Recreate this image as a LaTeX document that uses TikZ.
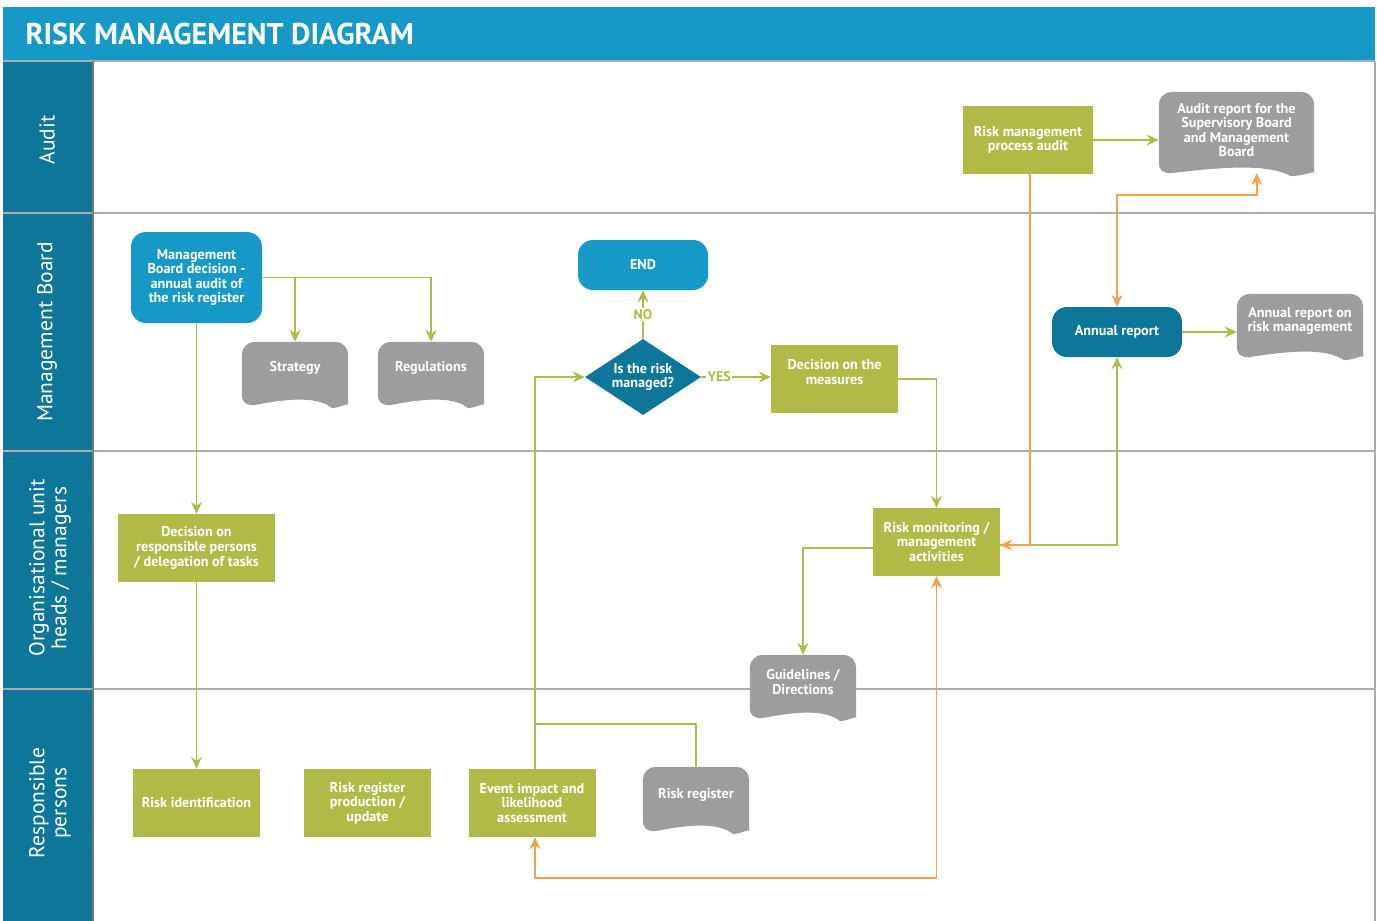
\documentclass[tikz,border=0pt]{standalone}
\usepackage{fontspec}
\setmainfont{PT Sans}
\usetikzlibrary{shapes.geometric,arrows.meta,calc}

\definecolor{titleblue}{HTML}{1799C8}
\definecolor{laneteal}{HTML}{0E7699}
\definecolor{boxgreen}{HTML}{B1BA46}
\definecolor{linkorange}{HTML}{F5A04B}
\definecolor{docgrey}{HTML}{9D9D9F}
\definecolor{laneline}{HTML}{ABABB0}
\definecolor{sepgrey}{HTML}{77777B}

\pgfdeclarelayer{lanes}
\pgfdeclarelayer{docs}
\pgfsetlayers{lanes,docs,main}

\tikzset{
  txt/.style={text=white, font=\bfseries\fontsize{14.2}{14.6}\selectfont, align=center, inner sep=0pt},
  gbox/.style={txt, fill=boxgreen, minimum width=127pt, minimum height=68pt},
  bbox/.style={txt, rounded corners=15pt, minimum width=130pt, minimum height=50pt},
  docnode/.style={txt, minimum width=106pt},
  lanelabel/.style={rotate=90, text=white, align=center, font=\fontsize{21.5}{22}\selectfont},
  glink/.style={draw=boxgreen, line width=1.7pt},
  garrow/.style={glink, -{Stealth[length=12pt,width=11pt,inset=4pt]}},
  oarrow/.style={draw=linkorange, line width=1.7pt, -{Stealth[length=12pt,width=11pt,inset=4pt]}},
  obiarrow/.style={draw=linkorange, line width=1.7pt, {Stealth[length=12pt,width=11pt,inset=4pt]}-{Stealth[length=12pt,width=11pt,inset=4pt]}},
  yesno/.style={fill=white, text=boxgreen, font=\bfseries\fontsize{14}{14}\selectfont, inner sep=1.5pt},
}

% grey document shape behind a node: rounded top, curled bottom edge
% #1 = node name, #2 = how far the curl reaches below the node
\newcommand\docback[2]{%
  \begin{pgfonlayer}{docs}
  \fill[docgrey]
    ($(#1.south west)+(0,#2-14)$)
    [rounded corners=13pt] -- (#1.north west) -- (#1.north east)
    -- ($(#1.south east)+(0,#2-16)$) [sharp corners]
    .. controls ($(#1.south east)+(0,#2-6)$) and ($(#1.south east)+(-6,#2-1)$) ..
    ($(#1.south west)!0.85!(#1.south east)+(0,#2)$)
    .. controls ($(#1.south west)!0.7!(#1.south east)+(0,#2-13)$) and ($(#1.south west)!0.4!(#1.south east)+(0,#2-9)$) ..
    ($(#1.south west)+(12,#2-3)$)
    .. controls ($(#1.south west)+(3,#2-3)$) and ($(#1.south west)+(0,#2-7)$) ..
    cycle;
  \end{pgfonlayer}}

\begin{document}
\begin{tikzpicture}[x=1pt, y=-1pt]
\useasboundingbox (0,0) rectangle (1377,921);

% title bar and swimlanes
\begin{pgfonlayer}{lanes}
  \fill[white] (0,0) rectangle (1377,921);
  \fill[titleblue] (3,7) rectangle (1375,60);
  \fill[laneteal] (3,61) rectangle (92,921);
  \foreach \yy in {61,213,451,689}
    \draw[laneline, line width=2pt] (3,\yy) -- (1375,\yy);
  \draw[sepgrey, line width=2.2pt] (93,61) -- (93,921);
  \draw[laneline, line width=1.5pt] (1375,61) -- (1375,921);
\end{pgfonlayer}

\node[anchor=west, text=white, font=\bfseries\fontsize{30}{30}\selectfont] (title) at (22,34) {RISK MANAGEMENT DIAGRAM};

\node[lanelabel] (l1) at (47,140) {Audit};
\node[lanelabel] (l2) at (47,332) {Management Board};
\node[lanelabel] (l3) at (50,568) {Organisational unit\\heads / managers};
\node[lanelabel] (l4) at (50,803) {Responsible\\persons};

% process steps
\node[bbox, fill=titleblue, minimum width=131pt, minimum height=91pt] (mbd) at (196.5,277.5)
  {Management\\Board decision -\\annual audit of\\the risk register};
\node[docnode, minimum height=52pt] (strat) at (295,368) {Strategy};
\node[docnode, minimum height=52pt] (regs) at (431,368) {Regulations};
\node[bbox, fill=titleblue] (endnode) at (643,265) {END};
\node[diamond, txt, fill=laneteal, aspect=1.53, minimum width=116pt, minimum height=76pt] (dia) at (643,377)
  {Is the risk\\managed?};
\node[gbox] (meas) at (834.5,379) {Decision on the\\measures\\\mbox{}};
\node[gbox, minimum width=130pt] (rpa) at (1028,140) {Risk management\\process audit};
\node[docnode, minimum width=155pt, minimum height=76pt] (arep) at (1236.5,130)
  {Audit report for the\\Supervisory Board\\and Management\\Board};
\node[bbox, fill=laneteal] (ann) at (1117,332) {Annual report};
\node[docnode, minimum width=126pt, minimum height=54pt] (arm) at (1300,321) {Annual report on\\risk management};
\node[gbox, minimum width=157pt] (resp) at (196.5,548) {Decision on\\responsible persons\\/ delegation of tasks};
\node[gbox] (mon) at (936.5,542) {Risk monitoring /\\management\\activities};
\node[docnode, minimum height=54pt] (guide) at (803,682) {Guidelines /\\Directions};
\node[gbox] (ident) at (196.5,803) {Risk identification};
\node[gbox] (rrp) at (367.5,803) {Risk register\\production /\\update};
\node[gbox] (evt) at (532,803) {Event impact and\\likelihood\\assessment};
\node[docnode, minimum height=56pt] (rr) at (696,795) {Risk register};

\docback{strat}{14}
\docback{regs}{14}
\docback{arep}{8}
\docback{arm}{12}
\docback{guide}{12}
\docback{rr}{11}

\coordinate (arepb) at ($(arep.south west)!0.63!(arep.south east)+(0,5)$);

% connectors
\draw[garrow] (mbd.east) -| (regs.north);
\draw[garrow] (mbd.east -| strat.north) -- (strat.north);
\draw[garrow] (mbd.south) -- (resp.north);
\draw[garrow] (resp.south) -- (ident.north);
\draw[garrow] ([xshift=3pt]evt.north) |- (dia.west);
\draw[glink] (rr.north) |- ($(evt.north)+(3,-45)$);
\draw[garrow] (dia.north) -- node[yesno] {NO} (endnode.south);
\draw[garrow] (dia.east) -- node[yesno, pos=0.26] {YES} (dia.east -| meas.west);
\draw[garrow] (meas.east) -| (mon.north);
\draw[garrow] ([yshift=-6pt]mon.west) -| (guide.north);
\draw[garrow] ([yshift=-3pt]mon.east) -| (ann.south);
\draw[oarrow] ([xshift=2pt]rpa.south) |- ([yshift=-3pt]mon.east);
\draw[garrow] (rpa.east) -- (rpa.east -| arep.west);
\draw[obiarrow] (ann.north) |- ($(arepb)+(0,22)$) -- (arepb);
\draw[garrow] (ann.east) -- (ann.east -| arm.west);
\draw[obiarrow] (mon.south) |- ($(evt.south)+(3,41)$) -- ([xshift=3pt]evt.south);
\end{tikzpicture}
\end{document}
